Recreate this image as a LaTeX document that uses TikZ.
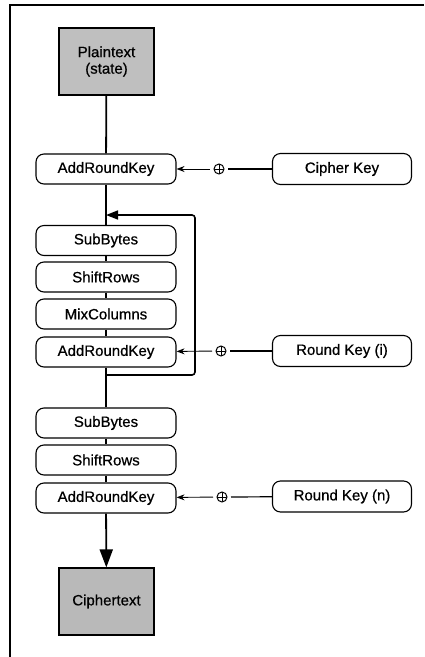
\documentclass[tikz,border=0pt]{standalone}
\usepackage{fontspec}
\setmainfont{Liberation Sans}
\newfontfamily\heavyfont[FakeBold=0.6]{Liberation Sans}
\usetikzlibrary{arrows.meta,calc}
\begin{document}
\begin{tikzpicture}[x=1pt,y=-1pt,
  txt/.style={font=\heavyfont\fontsize{15}{16.5}\selectfont},
  stepbox/.style={txt,draw,line width=1.1pt,rounded corners=8pt,minimum width=140pt,minimum height=30pt,inner sep=0pt},
  keybox/.style={txt,draw,line width=1.1pt,rounded corners=8pt,minimum width=139pt,minimum height=31pt,inner sep=0pt},
  databox/.style={txt,draw,line width=1.1pt,fill=gray!50,minimum width=95pt,minimum height=67pt,inner sep=0pt,align=center},
  xorsym/.style={circle,draw,line width=1pt,minimum size=10pt,inner sep=0pt,outer sep=4pt,
    path picture={\draw[line width=1pt] (path picture bounding box.north) -- (path picture bounding box.south)
      (path picture bounding box.west) -- (path picture bounding box.east);}},
  main/.style={line width=1.8pt},
  thin/.style={line width=0.9pt},
  keyline/.style={line width=1.2pt},
  keyarrow/.style={thin,-{Stealth[length=8pt,width=6pt]}}]
\useasboundingbox (0,0) rectangle (424,657);
% frame
\draw[line width=1.2pt] (10,657) -- (10,5) -- (424,5);
% data boxes
\node[databox] (pt) at (106.5,61.5) {Plaintext\\(state)};
\node[databox,fill=gray!55] (ct) at (106.5,601.5) {Ciphertext};
% steps
\node[stepbox] (ark1) at (106,169) {AddRoundKey};
\node[stepbox] (sb1) at (106,240.5) {SubBytes};
\node[stepbox] (sr1) at (106,277) {ShiftRows};
\node[stepbox] (mc1) at (106,314) {MixColumns};
\node[stepbox] (ark2) at (106,352) {AddRoundKey};
\node[stepbox] (sb2) at (106,423) {SubBytes};
\node[stepbox] (sr2) at (106,460) {ShiftRows};
\node[stepbox] (ark3) at (106,498) {AddRoundKey};
% keys
\node[keybox] (ck) at (342,169) {Cipher Key};
\node[keybox] (rki) at (342,351) {Round Key (i)};
\node[keybox] (rkn) at (342,496.5) {Round Key (n)};
% xor symbols
\node[xorsym] (x1) at (219,169) {};
\node[xorsym] (x2) at (221,351) {};
\node[xorsym] (x3) at (222,497) {};
% main flow
\draw[main] (pt) -- (ark1);
\draw[main] (ark1) -- (sb1);
\draw[main] (sb1) -- (sr1);
\draw[main] (sr1) -- (mc1);
\draw[main] (mc1) -- (ark2);
\draw[main] (ark2) -- (sb2);
\draw[main] (sb2) -- (sr2);
\draw[main] (sr2) -- (ark3);
\draw[main,-{Triangle[length=18pt,width=13pt]}] (ark3) -- (ct);
% loop
\coordinate (lb) at (106,375);
\coordinate (lt) at (106,215);
\draw[line width=1.6pt,rounded corners=3pt,-{Triangle[length=12pt,width=9pt]}] (lb) -- (195,375) -- (195,215) -- (lt);
% key arrows
\draw[keyarrow] (x1) -- (ark1);
\draw[keyline] (x1) -- (ck);
\draw[keyarrow] (x2) -- (ark2);
\draw[keyline] (x2) -- (rki);
\draw[keyarrow] (x3) -- (ark3);
\draw[keyline] (x3) -- (rkn);
\end{tikzpicture}
\end{document}
